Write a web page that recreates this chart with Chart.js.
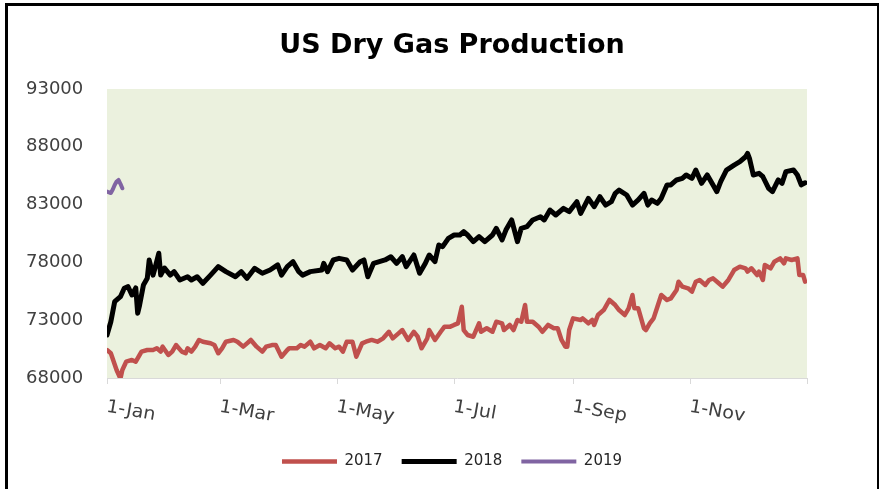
<!DOCTYPE html>
<html><head><meta charset="utf-8">
<script src="https://cdn.jsdelivr.net/npm/chart.js@4/dist/chart.umd.min.js"></script>
<style>html,body{margin:0;padding:0;background:#fff;}canvas{display:block;}</style>
</head><body>
<canvas id="c" width="882" height="489"></canvas>
<script>
// x-axis ticks (day of year)
const tickDays = [0, 59, 120, 181, 243, 304, 365];
const tickLabels = ['1-Jan', '1-Mar', '1-May', '1-Jul', '1-Sep', '1-Nov', ''];
const yTicks = [68000, 73000, 78000, 83000, 88000, 93000];
const seriesNames = ['2017', '2018', '2019'];

const days2017 = [
  0,2,5,7,8,10,13,15,18,21,
  24,26,28,29,32,34,36,39,41,42,
  44,46,48,50,54,56,58,60,62,66,
  68,71,73,75,78,81,83,86,88,91,
  94,95,99,101,103,106,108,111,114,116,
  119,121,123,125,128,130,133,135,138,141,
  144,147,149,152,154,157,160,162,164,167,
  168,171,174,176,179,181,183,185,186,188,
  191,194,195,198,201,203,206,207,210,212,
  214,216,218,219,222,225,227,230,233,235,
  237,239,240,241,243,247,248,251,253,254,
  256,259,262,265,267,270,272,274,275,277,
  280,281,283,285,287,289,292,294,297,298,
  300,303,305,307,309,312,314,316,319,321,
  324,327,330,333,334,336,339,340,342,343,
  346,348,351,353,354,357,360,361,363,364];
const prod2017 = [
  70420,70140,68690,67950,68690,69410,69560,69410,70280,70420,
  70420,70570,70280,70710,69990,70280,70850,70280,70140,70570,
  70280,70710,71290,71140,71000,70850,70140,70570,71140,71290,
  71140,70710,71000,71290,70710,70280,70710,70850,70850,69840,
  70420,70570,70570,70850,70710,71140,70570,70850,70570,71000,
  70570,70710,70280,71140,71140,69840,71000,71140,71290,71140,
  71430,72000,71430,71860,72150,71290,72000,71570,70570,71430,
  72150,71290,72000,72440,72440,72590,72730,74170,72150,71720,
  71570,72730,72000,72300,72000,72870,72730,72150,72590,72150,
  73020,72870,74310,72870,72870,72440,72000,72590,72300,72300,
  71290,70710,70710,72150,73160,73020,73160,72730,73020,72590,
  73450,73880,74750,74310,73880,73450,74030,75180,74030,74030,
  72300,72150,72730,73160,74170,75180,74750,74890,75610,76330,
  75900,75760,75470,76330,76480,76050,76480,76620,76190,75900,
  76480,77340,77630,77490,77200,77490,76910,77200,76480,77780,
  77490,78060,78350,77920,78350,78210,78350,76910,76910,76330];

const days2018 = [
  0,2,4,7,9,11,13,15,16,17,
  19,21,22,24,25,27,28,30,33,35,
  38,42,44,47,50,54,58,62,67,70,
  73,77,81,85,89,91,94,97,100,102,
  106,112,113,115,118,121,125,128,132,134,
  136,139,142,145,148,151,154,156,160,163,
  166,168,171,173,175,178,181,184,186,188,
  191,194,197,201,203,206,208,211,214,216,
  219,222,226,228,231,234,238,241,245,247,
  251,254,257,260,263,265,267,271,274,277,
  280,282,284,287,289,292,294,297,300,302,
  305,307,310,313,316,318,320,323,327,330,
  333,334,335,337,340,342,345,347,350,352,
  354,358,360,362,364];
const prod2018 = [
  71720,72870,74600,75030,75760,75900,75180,75790,73600,74310,
  76040,76620,78200,76900,77490,78790,76900,77510,76900,77200,
  76480,76760,76480,76760,76190,76900,77630,77200,76760,77200,
  76620,77490,77060,77340,77780,76900,77630,78060,77200,76900,
  77200,77340,77920,77200,78210,78350,78210,77340,78060,78210,
  76760,77920,78060,78210,78490,77920,78490,77630,78640,77060,
  77920,78640,78060,79500,79360,80080,80370,80370,80660,80370,
  79790,80230,79790,80370,80950,79940,80800,81670,79790,80950,
  81090,81670,81950,81670,82530,82100,82680,82390,83250,82240,
  83540,82820,83680,82960,83250,83970,84260,83830,82960,83400,
  83970,82960,83400,83110,83540,84700,84700,85130,85270,85560,
  85270,85990,84840,85560,84700,84120,84990,85990,86420,86710,
  87140,87430,87000,85560,85700,85410,84410,84120,85130,84840,
  85850,85990,85560,84700,84890];

const days2019 = [0,2,3,4,5,6,7,8];
const prod2019 = [84120,84000,84300,84700,85000,85130,84800,84410];

const colors = ['#C0504D', '#000000', '#8064A2'];
const widths = [4.5, 5, 4];

function pts(days, vals) { return days.map((d, i) => ({x: d, y: vals[i]})); }

const bgPlugin = {
  id: 'bg',
  beforeDraw(chart) {
    const {ctx, chartArea: a} = chart;
    ctx.save();
    ctx.fillStyle = '#ffffff';
    ctx.fillRect(0, 0, chart.width, chart.height);
    ctx.fillStyle = '#EBF1DE';
    ctx.fillRect(a.left, a.top, a.right - a.left, a.bottom - a.top);
    ctx.restore();
  },
  afterDraw(chart) {
    const ctx = chart.ctx;
    const xs = chart.scales.x;
    ctx.save();
    ctx.fillStyle = '#404040';
    ctx.font = '18px "DejaVu Sans"';
    ctx.textAlign = 'left';
    ctx.textBaseline = 'top';
    tickDays.forEach((d, i) => {
      if (!tickLabels[i]) return;
      const px = xs.getPixelForValue(d);
      ctx.save();
      ctx.translate(px + 1, chart.chartArea.bottom + 20);
      ctx.rotate(10 * Math.PI / 180);
      ctx.scale(1.06, 1);
      ctx.fillText(tickLabels[i], 0, 0);
      ctx.restore();
    });
    // outer frame
    ctx.fillStyle = '#000000';
    ctx.fillRect(5, 3, 3, chart.height - 3);
    ctx.fillRect(5, 3, chart.width - 8, 3);
    ctx.fillRect(chart.width - 5, 3, 2, chart.height - 3);
    ctx.restore();
  }
};

new Chart(document.getElementById('c'), {
  type: 'line',
  data: {
    datasets: [
      {label: seriesNames[0], data: pts(days2017, prod2017)},
      {label: seriesNames[1], data: pts(days2018, prod2018)},
      {label: seriesNames[2], data: pts(days2019, prod2019)}
    ].map((ds, i) => Object.assign(ds, {
      borderColor: colors[i], backgroundColor: colors[i], borderWidth: widths[i],
      pointRadius: 0, tension: 0, borderCapStyle: 'round', borderJoinStyle: 'round', fill: false
    }))
  },
  options: {
    responsive: false,
    animation: false,
    layout: {padding: {left: 97, right: 75, top: 0, bottom: 10}},
    plugins: {
      title: {
        display: true, text: 'US Dry Gas Production', color: '#000000',
        font: {family: '"DejaVu Sans"', size: 27, weight: 'bold'},
        padding: {top: 30, bottom: 26.6}
      },
      legend: {
        position: 'bottom',
        labels: {
          usePointStyle: true, pointStyle: 'line', pointStyleWidth: 55, boxHeight: 4,
          padding: 19, color: '#262626', font: {family: '"DejaVu Sans"', size: 15}
        }
      },
      tooltip: {enabled: false}
    },
    scales: {
      x: {
        type: 'linear', min: 0, max: 365,
        afterBuildTicks(s) { s.ticks = tickDays.map(v => ({value: v})); },
        afterFit(s) { s.height = 57; },
        ticks: {display: false},
        grid: {display: true, drawOnChartArea: false, drawTicks: true, tickLength: 6, color: '#D9D9D9'},
        border: {display: true, color: '#D9D9D9'}
      },
      y: {
        min: 68000, max: 93000,
        afterBuildTicks(s) { s.ticks = yTicks.map(v => ({value: v})); },
        afterFit(s) { s.width = 10; },
        ticks: {
          mirror: true, crossAlign: 'near', padding: -81,
          color: '#404040', font: {family: '"DejaVu Sans"', size: 18},
          callback: v => String(v)
        },
        grid: {display: false, drawTicks: false},
        border: {display: false}
      }
    }
  },
  plugins: [bgPlugin]
});
</script>
</body></html>
